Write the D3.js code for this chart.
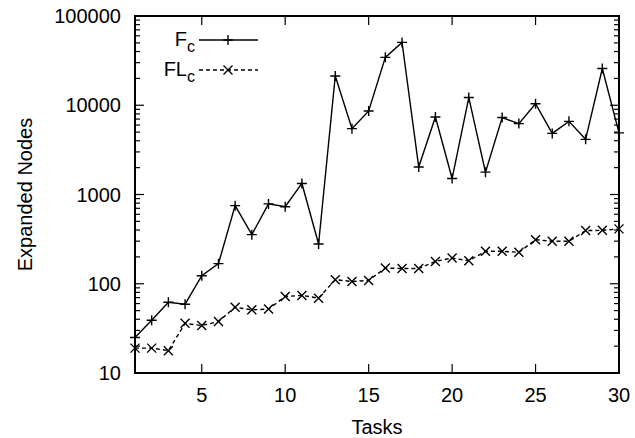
<!DOCTYPE html>
<html>
<head>
<meta charset="utf-8">
<script src="https://cdn.jsdelivr.net/npm/d3@7"></script>
<style>
  html, body { margin: 0; padding: 0; background: #fff; }
  svg { display: block; font-family: "Liberation Sans", Arial, Helvetica, sans-serif; }
</style>
</head>
<body>
<svg id="chart" width="635" height="438"></svg>
<script>
// Task indices 1..30
const tasks = d3.range(1, 31);

// Expanded nodes per task, F_c search
const fcValues = [25, 39, 62, 59, 123, 168, 750, 355, 785, 730,
                  1330, 279, 21300, 5470, 8630, 34400, 50600, 2030, 7390, 1510,
                  12200, 1780, 7280, 6230, 10400, 4840, 6600, 4150, 25800, 4900];

// Expanded nodes per task, FL_c search
const flcValues = [19, 19, 17.8, 36, 34, 37.7, 54.7, 51, 52, 72,
                   74, 69, 111, 106, 109, 150, 148, 148, 178, 194,
                   181, 231, 231, 225, 312, 299, 299, 394, 397, 412];

const xTicks = [5, 10, 15, 20, 25, 30];
const yTicks = [10, 100, 1000, 10000, 100000];

const series = [
  { name: "F", sub: "c", values: fcValues, marker: "plus", dash: null },
  { name: "FL", sub: "c", values: flcValues, marker: "cross", dash: "4,3" }
];

const W = 635, H = 438;
const m = { left: 135, right: 619, top: 16, bottom: 373 };

const svg = d3.select("#chart");

const x = d3.scaleLinear().domain([1, 30]).range([m.left, m.right]);
const y = d3.scaleLog().domain([10, 100000]).range([m.bottom, m.top]);

const fontSize = 20;

// minor log ticks 2..9 within each decade
const minorTicks = [];
for (let d = 10; d < 100000; d *= 10) {
  for (let k = 2; k <= 9; k++) minorTicks.push(d * k);
}

const tickG = svg.append("g").attr("stroke", "#000").attr("stroke-width", 1.2);

// y major ticks (inward, both sides)
yTicks.forEach(v => {
  tickG.append("line").attr("x1", m.left).attr("x2", m.left + 9).attr("y1", y(v)).attr("y2", y(v));
  tickG.append("line").attr("x1", m.right).attr("x2", m.right - 9).attr("y1", y(v)).attr("y2", y(v));
});
minorTicks.forEach(v => {
  tickG.append("line").attr("x1", m.left).attr("x2", m.left + 5).attr("y1", y(v)).attr("y2", y(v));
  tickG.append("line").attr("x1", m.right).attr("x2", m.right - 5).attr("y1", y(v)).attr("y2", y(v));
});
// x ticks (inward, bottom and top)
xTicks.forEach(v => {
  tickG.append("line").attr("x1", x(v)).attr("x2", x(v)).attr("y1", m.bottom).attr("y2", m.bottom - 9);
  tickG.append("line").attr("x1", x(v)).attr("x2", x(v)).attr("y1", m.top).attr("y2", m.top + 9);
});

// tick labels
svg.append("g").selectAll("text").data(yTicks).join("text")
  .attr("x", m.left - 14).attr("y", d => y(d)).attr("dy", "0.35em")
  .attr("text-anchor", "end").attr("font-size", fontSize).attr("fill", "#000")
  .text(d => d3.format("d")(d));

svg.append("g").selectAll("text").data(xTicks).join("text")
  .attr("x", d => x(d)).attr("y", 402)
  .attr("text-anchor", "middle").attr("font-size", fontSize).attr("fill", "#000")
  .text(d => d);

// axis titles
svg.append("text").attr("x", (m.left + m.right) / 2).attr("y", 434)
  .attr("text-anchor", "middle").attr("font-size", fontSize).text("Tasks");
svg.append("text")
  .attr("transform", `translate(32,${(m.top + m.bottom) / 2}) rotate(-90)`)
  .attr("text-anchor", "middle").attr("font-size", fontSize).text("Expanded Nodes");

// markers
function drawMarker(g, type, cx, cy, s) {
  if (type === "plus") {
    g.append("path").attr("d", `M${cx - s},${cy}H${cx + s}M${cx},${cy - s}V${cy + s}`);
  } else {
    g.append("path").attr("d", `M${cx - s},${cy - s}L${cx + s},${cy + s}M${cx - s},${cy + s}L${cx + s},${cy - s}`);
  }
}

const line = d3.line().x(d => x(d[0])).y(d => y(d[1]));

const plotG = svg.append("g");
series.forEach(s => {
  const pts = tasks.map((t, i) => [t, s.values[i]]);
  plotG.append("path").datum(pts)
    .attr("d", line).attr("fill", "none").attr("stroke", "#000")
    .attr("stroke-width", 1.4).attr("stroke-dasharray", s.dash);
  const mg = plotG.append("g").attr("stroke", "#000").attr("stroke-width", 1.4).attr("fill", "none");
  pts.forEach(p => drawMarker(mg, s.marker, x(p[0]), y(p[1]), s.marker === "plus" ? 5 : 4.5));
});

// legend
const legend = svg.append("g");
series.forEach((s, i) => {
  const ly = 40 + i * 30;
  const t = legend.append("text").attr("x", 195).attr("y", ly + 6)
    .attr("text-anchor", "end").attr("font-size", fontSize);
  t.append("tspan").text(s.name);
  t.append("tspan").attr("font-size", 16).attr("dy", 6).text(s.sub);
  legend.append("line").attr("x1", 199).attr("x2", 258).attr("y1", ly).attr("y2", ly)
    .attr("stroke", "#000").attr("stroke-width", 1.4).attr("stroke-dasharray", s.dash);
  const mg = legend.append("g").attr("stroke", "#000").attr("stroke-width", 1.4);
  drawMarker(mg, s.marker, 228, ly, s.marker === "plus" ? 5 : 4.5);
});

// frame
svg.append("rect")
  .attr("x", m.left).attr("y", m.top)
  .attr("width", m.right - m.left).attr("height", m.bottom - m.top)
  .attr("fill", "none").attr("stroke", "#000").attr("stroke-width", 2);
</script>
</body>
</html>
